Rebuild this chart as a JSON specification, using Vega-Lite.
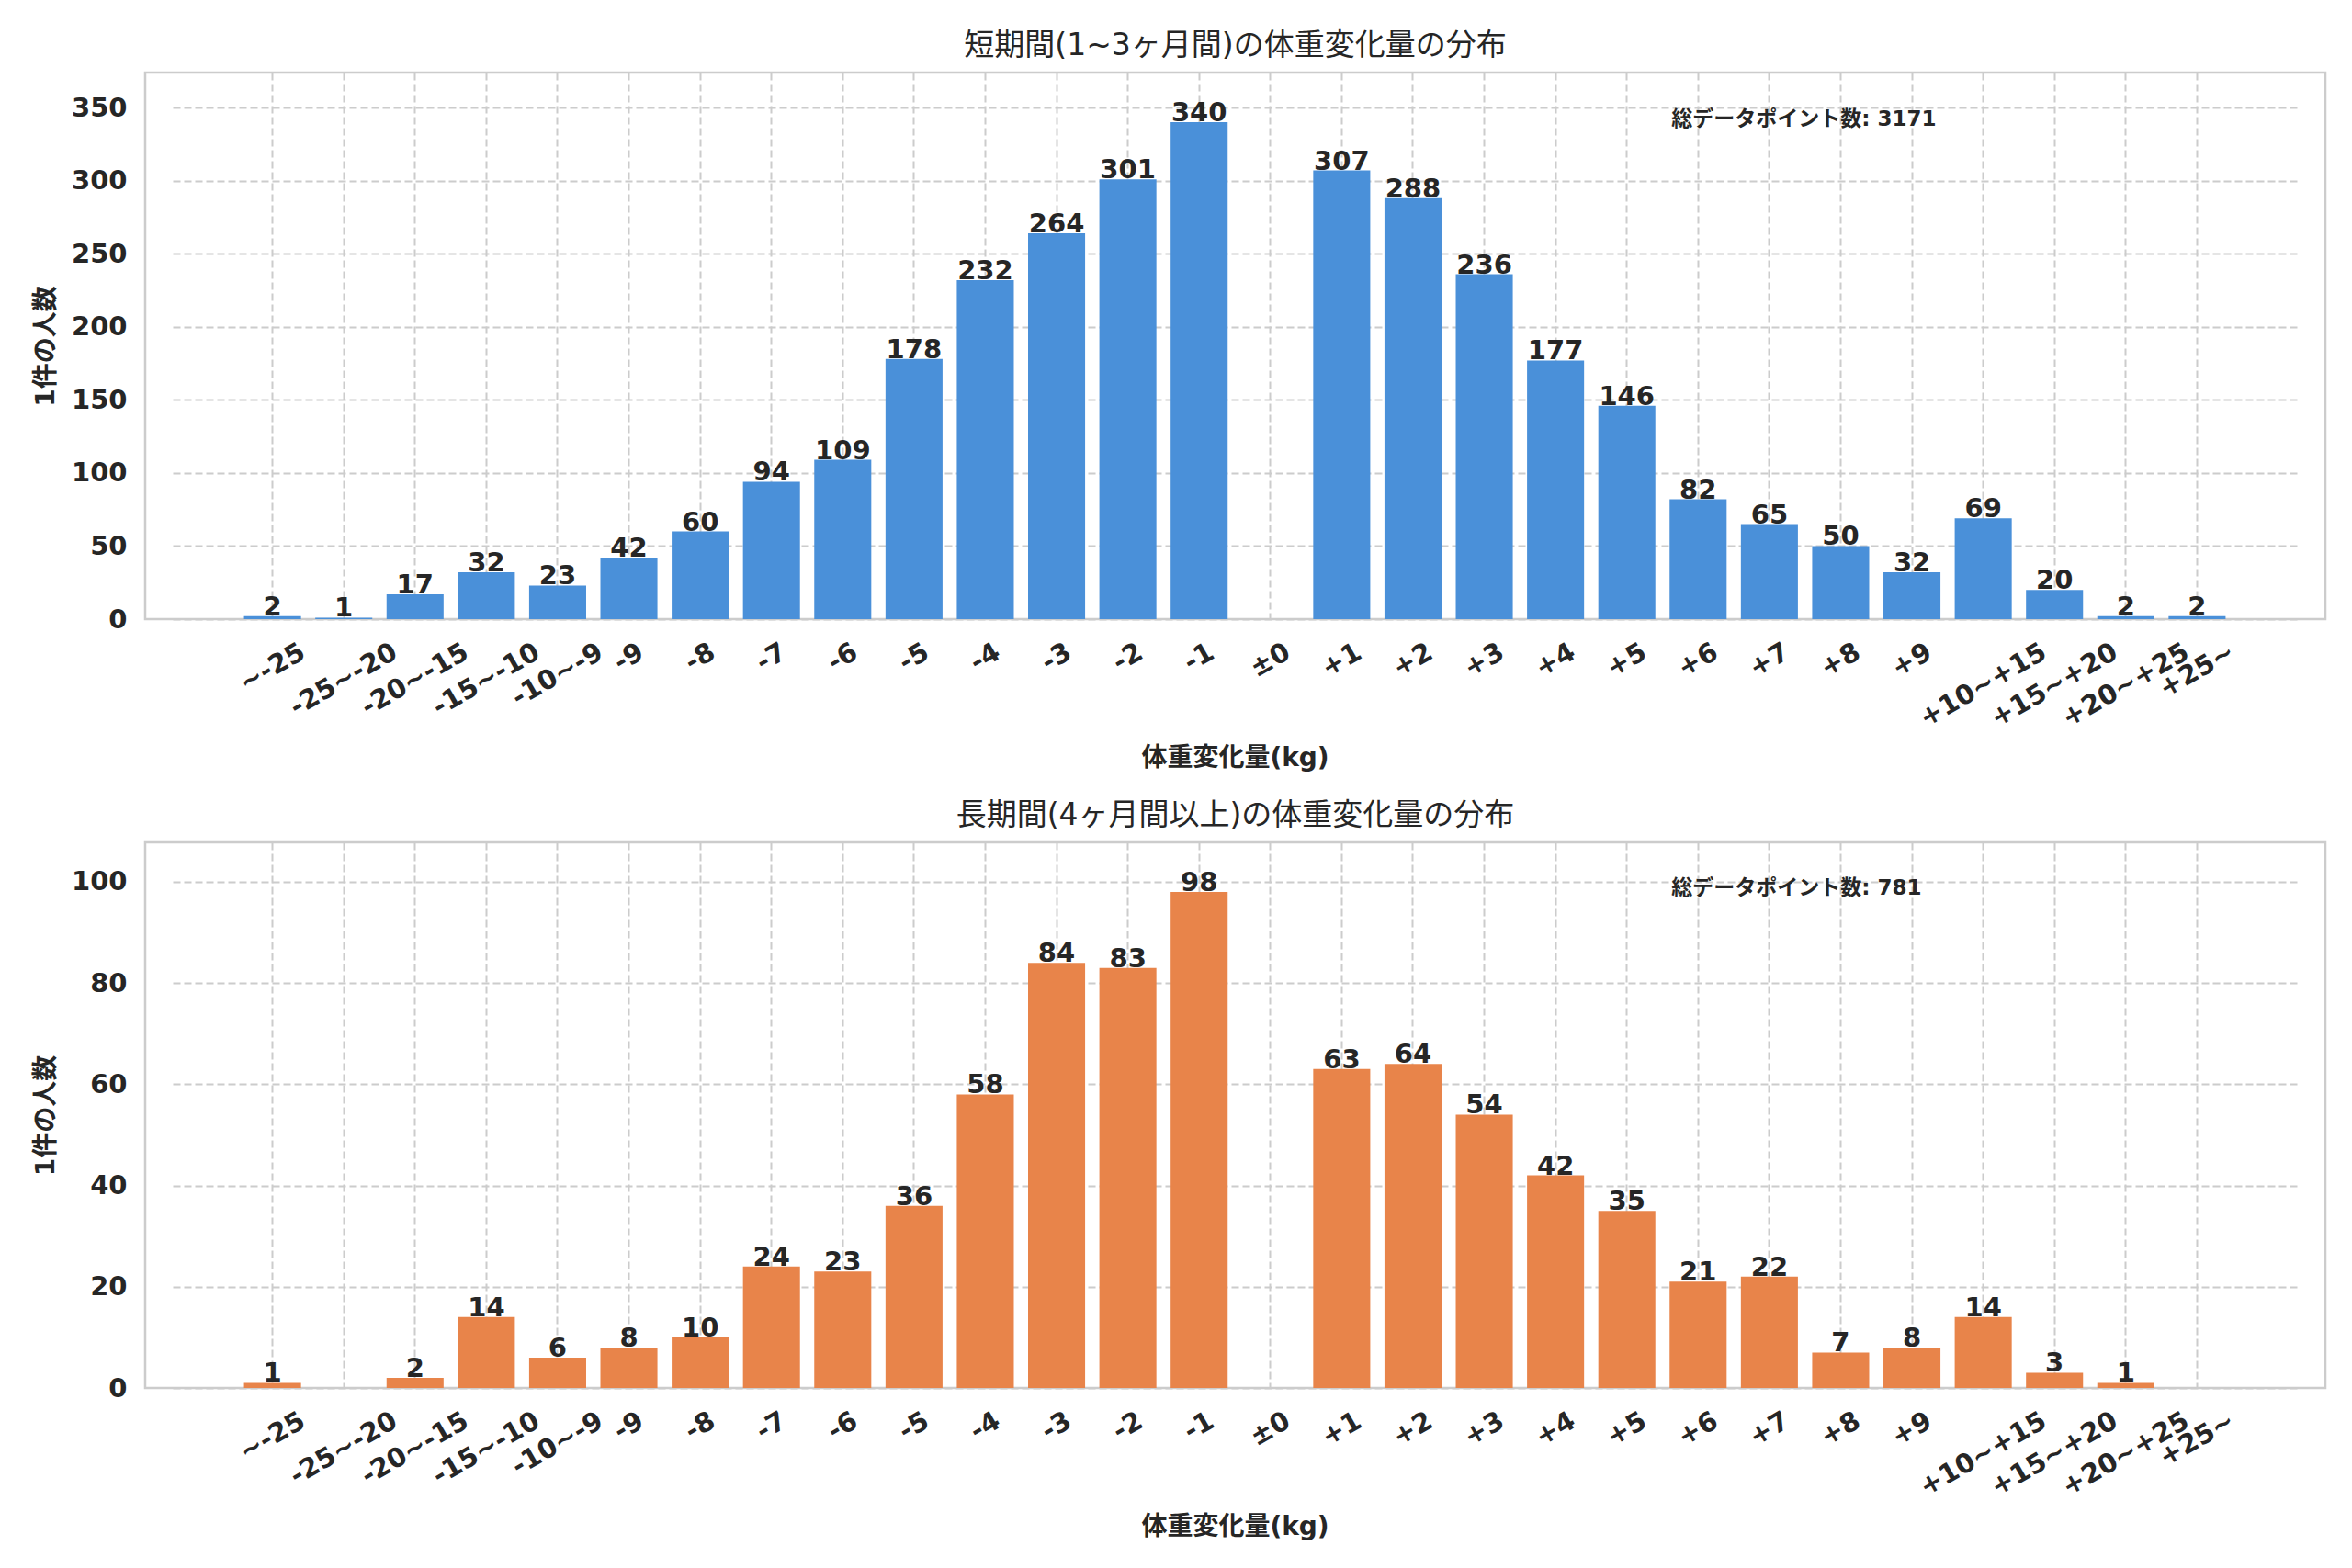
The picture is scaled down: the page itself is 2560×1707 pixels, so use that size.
{
  "$schema": "https://vega.github.io/schema/vega-lite/v6.json",
  "background": "white",
  "padding": {"left": 35, "top": 32, "right": 20, "bottom": 20},
  "config": {
    "font": "DejaVu Sans, Noto Sans CJK JP",
    "view": {"stroke": "#cccccc", "strokeWidth": 2.5},
    "axis": {
      "labelFont": "DejaVu Sans, Noto Sans CJK JP",
      "labelFontSize": 29,
      "labelFontWeight": "bold",
      "labelColor": "#262626",
      "titleFont": "DejaVu Sans, Noto Sans CJK JP",
      "titleFontSize": 28,
      "titleFontWeight": "bold",
      "titleColor": "#262626",
      "ticks": false,
      "domain": false,
      "grid": true,
      "gridColor": "#cccccc",
      "gridDash": [8, 4],
      "gridWidth": 2
    },
    "title": {"font": "DejaVu Sans, Noto Sans CJK JP", "fontSize": 33, "fontWeight": "normal", "color": "#262626", "offset": 12, "anchor": "middle"},
    "concat": {"spacing": 28}
  },
  "datasets": {
    "short": [
      {"bin": "~-25", "count": 2}, {"bin": "-25~-20", "count": 1}, {"bin": "-20~-15", "count": 17}, {"bin": "-15~-10", "count": 32},
      {"bin": "-10~-9", "count": 23}, {"bin": "-9", "count": 42}, {"bin": "-8", "count": 60}, {"bin": "-7", "count": 94},
      {"bin": "-6", "count": 109}, {"bin": "-5", "count": 178}, {"bin": "-4", "count": 232}, {"bin": "-3", "count": 264},
      {"bin": "-2", "count": 301}, {"bin": "-1", "count": 340}, {"bin": "±0", "count": 0}, {"bin": "+1", "count": 307},
      {"bin": "+2", "count": 288}, {"bin": "+3", "count": 236}, {"bin": "+4", "count": 177}, {"bin": "+5", "count": 146},
      {"bin": "+6", "count": 82}, {"bin": "+7", "count": 65}, {"bin": "+8", "count": 50}, {"bin": "+9", "count": 32},
      {"bin": "+10~+15", "count": 69}, {"bin": "+15~+20", "count": 20}, {"bin": "+20~+25", "count": 2}, {"bin": "+25~", "count": 2}
    ],
    "long": [
      {"bin": "~-25", "count": 1}, {"bin": "-25~-20", "count": 0}, {"bin": "-20~-15", "count": 2}, {"bin": "-15~-10", "count": 14},
      {"bin": "-10~-9", "count": 6}, {"bin": "-9", "count": 8}, {"bin": "-8", "count": 10}, {"bin": "-7", "count": 24},
      {"bin": "-6", "count": 23}, {"bin": "-5", "count": 36}, {"bin": "-4", "count": 58}, {"bin": "-3", "count": 84},
      {"bin": "-2", "count": 83}, {"bin": "-1", "count": 98}, {"bin": "±0", "count": 0}, {"bin": "+1", "count": 63},
      {"bin": "+2", "count": 64}, {"bin": "+3", "count": 54}, {"bin": "+4", "count": 42}, {"bin": "+5", "count": 35},
      {"bin": "+6", "count": 21}, {"bin": "+7", "count": 22}, {"bin": "+8", "count": 7}, {"bin": "+9", "count": 8},
      {"bin": "+10~+15", "count": 14}, {"bin": "+15~+20", "count": 3}, {"bin": "+20~+25", "count": 1}, {"bin": "+25~", "count": 0}
    ],
    "note": [{"name": "annotation"}]
  },
  "vconcat": [
    {
      "width": 2373,
      "height": 595,
      "title": "短期間(1~3ヶ月間)の体重変化量の分布",
      "layer": [
        {
          "data": {"name": "short"},
          "mark": {"type": "bar", "color": "#4a90d9"},
          "encoding": {
            "x": {
              "field": "bin", "type": "nominal", "sort": null,
              "scale": {"domain": ["~-25","-25~-20","-20~-15","-15~-10","-10~-9","-9","-8","-7","-6","-5","-4","-3","-2","-1","±0","+1","+2","+3","+4","+5","+6","+7","+8","+9","+10~+15","+15~+20","+20~+25","+25~"], "paddingInner": 0.2, "paddingOuter": 1, "range": [30, 2342]},
              "axis": {
                "title": "体重変化量(kg)",
                "labelAngle": -30, "labelAlign": "right", "labelBaseline": "top", "labelPadding": 21, "titlePadding": 15,
                "labelOffset": {"expr": "0.433*(length(datum.label)*20.2 + 4.1*length(replace(datum.label, regexp('[^+~±]','g'), '')) - 8.2*length(replace(datum.label, regexp('[^-]','g'), ''))) - 7.2"}
              }
            },
            "y": {
              "field": "count", "type": "quantitative",
              "scale": {"domain": [0, 374], "nice": false},
              "axis": {"title": "1件の人数", "values": [0,50,100,150,200,250,300,350], "labelPadding": 20, "titlePadding": 13}
            }
          }
        },
        {
          "data": {"name": "short"},
          "transform": [{"filter": "datum.count > 0"}],
          "mark": {"type": "text", "fontSize": 29, "fontWeight": "bold", "color": "#262626", "baseline": "alphabetic", "dy": -1},
          "encoding": {
            "x": {"field": "bin", "type": "nominal", "sort": null},
            "y": {"field": "count", "type": "quantitative"},
            "text": {"field": "count", "type": "quantitative"}
          }
        },
        {
          "data": {"name": "note"},
          "mark": {"type": "text", "fontSize": 23, "fontWeight": "bold", "color": "#262626", "align": "left", "baseline": "middle", "dx": -29},
          "encoding": {
            "x": {"datum": "+6", "type": "nominal"},
            "y": {"datum": 342, "type": "quantitative"},
            "text": {"value": "総データポイント数: 3171"}
          }
        }
      ]
    },
    {
      "width": 2373,
      "height": 594,
      "title": "長期間(4ヶ月間以上)の体重変化量の分布",
      "layer": [
        {
          "data": {"name": "long"},
          "mark": {"type": "bar", "color": "#e8844a"},
          "encoding": {
            "x": {
              "field": "bin", "type": "nominal", "sort": null,
              "scale": {"domain": ["~-25","-25~-20","-20~-15","-15~-10","-10~-9","-9","-8","-7","-6","-5","-4","-3","-2","-1","±0","+1","+2","+3","+4","+5","+6","+7","+8","+9","+10~+15","+15~+20","+20~+25","+25~"], "paddingInner": 0.2, "paddingOuter": 1, "range": [30, 2342]},
              "axis": {
                "title": "体重変化量(kg)",
                "labelAngle": -30, "labelAlign": "right", "labelBaseline": "top", "labelPadding": 21, "titlePadding": 15,
                "labelOffset": {"expr": "0.433*(length(datum.label)*20.2 + 4.1*length(replace(datum.label, regexp('[^+~±]','g'), '')) - 8.2*length(replace(datum.label, regexp('[^-]','g'), ''))) - 7.2"}
              }
            },
            "y": {
              "field": "count", "type": "quantitative",
              "scale": {"domain": [0, 107.8], "nice": false},
              "axis": {"title": "1件の人数", "values": [0,20,40,60,80,100], "labelPadding": 20, "titlePadding": 13}
            }
          }
        },
        {
          "data": {"name": "long"},
          "transform": [{"filter": "datum.count > 0"}],
          "mark": {"type": "text", "fontSize": 29, "fontWeight": "bold", "color": "#262626", "baseline": "alphabetic", "dy": -1},
          "encoding": {
            "x": {"field": "bin", "type": "nominal", "sort": null},
            "y": {"field": "count", "type": "quantitative"},
            "text": {"field": "count", "type": "quantitative"}
          }
        },
        {
          "data": {"name": "note"},
          "mark": {"type": "text", "fontSize": 23, "fontWeight": "bold", "color": "#262626", "align": "left", "baseline": "middle", "dx": -29},
          "encoding": {
            "x": {"datum": "+6", "type": "nominal"},
            "y": {"datum": 98.7, "type": "quantitative"},
            "text": {"value": "総データポイント数: 781"}
          }
        }
      ]
    }
  ]
}
